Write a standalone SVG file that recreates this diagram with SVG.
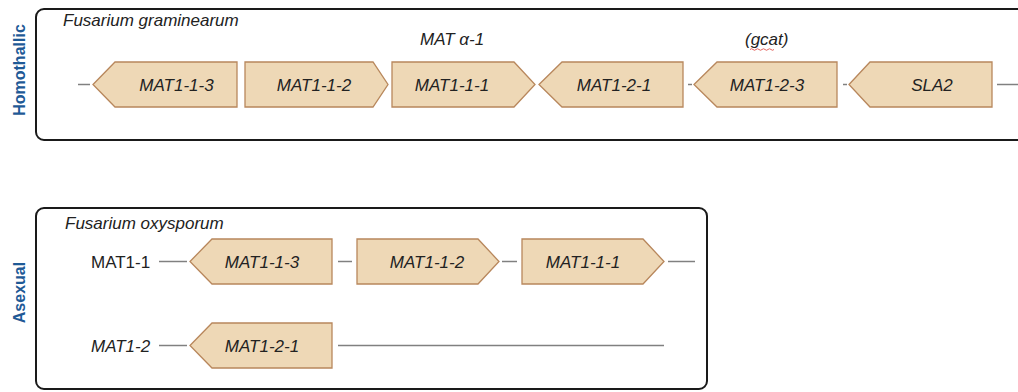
<svg xmlns="http://www.w3.org/2000/svg" width="1018" height="392" viewBox="0 0 1018 392">
<style>
.box{fill:#fff;stroke:#1a1a1a;stroke-width:2}
.gene{fill:#eed8b6;stroke:#b8875c;stroke-width:1.3}
.gl{font-family:"Liberation Sans",Arial,sans-serif;font-size:17px;font-style:italic;fill:#222;text-anchor:middle}
.title{font-family:"Liberation Sans",Arial,sans-serif;font-size:17px;font-style:italic;fill:#222}
.plain{font-family:"Liberation Sans",Arial,sans-serif;font-size:17px;fill:#222}
.side{font-family:"Liberation Sans",Arial,sans-serif;font-size:16px;font-weight:bold;fill:#1f5a96;text-anchor:middle}
.ln{stroke:#808080;stroke-width:1.5;fill:none}
</style>

<g id="panel-homothallic">
  <rect class="box" x="36" y="9" width="1000" height="131" rx="8"/>
  <text class="side" transform="translate(24.5,70) rotate(-90)">Homothallic</text>
  <text class="title" x="63" y="26">Fusarium graminearum</text>
  <text class="title" x="420" y="45">MAT α-1</text>
  <text class="title" x="745" y="45">(gcat)</text>
  <path d="M750 49.5 q1.5 -1.5 3 0 t3 0 t3 0 t3 0 t3 0 t3 0 t3 0 t3 0" stroke="#e0564f" stroke-width="0.9" fill="none"/>
</g>

<g id="panel-asexual">
  <rect class="box" x="36" y="208" width="671" height="181" rx="8"/>
  <text class="side" transform="translate(24.5,292.5) rotate(-90)">Asexual</text>
  <text class="title" x="65" y="229">Fusarium oxysporum</text>
  <text class="plain" x="91" y="268">MAT1-1</text>
  <text class="title" x="91" y="352">MAT1-2</text>
</g>

<g id="connectors">
  <line class="ln" x1="78" y1="84.5" x2="90" y2="84.5"/>
  <line class="ln" x1="688" y1="84.5" x2="692" y2="84.5"/>
  <line class="ln" x1="843" y1="84.5" x2="847" y2="84.5"/>
  <line class="ln" x1="997" y1="84.5" x2="1018" y2="84.5"/>
  <line class="ln" x1="159" y1="261.5" x2="187" y2="261.5"/>
  <line class="ln" x1="338" y1="261.5" x2="352" y2="261.5"/>
  <line class="ln" x1="502" y1="261.5" x2="517" y2="261.5"/>
  <line class="ln" x1="668" y1="261.5" x2="695" y2="261.5"/>
  <line class="ln" x1="159" y1="345.5" x2="187" y2="345.5"/>
  <line class="ln" x1="338" y1="345.5" x2="664" y2="345.5"/>
</g>

<g id="fg-MAT1-1-3">
  <polygon class="gene" points="93,84.5 115,62 237,62 237,107 115,107"/>
  <text class="gl" x="176.5" y="91">MAT1-1-3</text>
</g>
<g id="fg-MAT1-1-2">
  <polygon class="gene" points="245,62 373,62 388,84.5 373,107 245,107"/>
  <text class="gl" x="314" y="91">MAT1-1-2</text>
</g>
<g id="fg-MAT1-1-1">
  <polygon class="gene" points="392,62 514,62 535,84.5 514,107 392,107"/>
  <text class="gl" x="452" y="91">MAT1-1-1</text>
</g>
<g id="fg-MAT1-2-1">
  <polygon class="gene" points="539,84.5 562,62 683,62 683,107 562,107"/>
  <text class="gl" x="614" y="91">MAT1-2-1</text>
</g>
<g id="fg-MAT1-2-3">
  <polygon class="gene" points="694,84.5 717,62 837,62 837,107 717,107"/>
  <text class="gl" x="767" y="91">MAT1-2-3</text>
</g>
<g id="fg-SLA2">
  <polygon class="gene" points="849,84.5 870,62 992,62 992,107 870,107"/>
  <text class="gl" x="932" y="91">SLA2</text>
</g>

<g id="fo-MAT1-1-3">
  <polygon class="gene" points="190,261.5 212,239 332,239 332,284 212,284"/>
  <text class="gl" x="262" y="268">MAT1-1-3</text>
</g>
<g id="fo-MAT1-1-2">
  <polygon class="gene" points="357,239 478,239 499,261.5 478,284 357,284"/>
  <text class="gl" x="427" y="268">MAT1-1-2</text>
</g>
<g id="fo-MAT1-1-1">
  <polygon class="gene" points="522,239 643,239 664,261.5 643,284 522,284"/>
  <text class="gl" x="583" y="268">MAT1-1-1</text>
</g>
<g id="fo-MAT1-2-1">
  <polygon class="gene" points="190,345.5 212,323 332,323 332,368 212,368"/>
  <text class="gl" x="262" y="352">MAT1-2-1</text>
</g>
</svg>
